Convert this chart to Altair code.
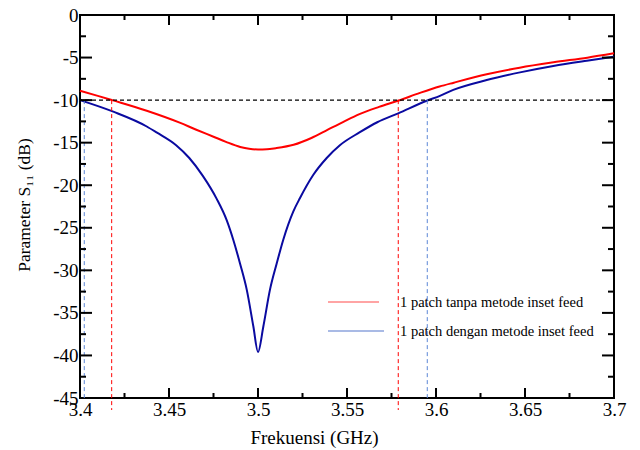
import altair as alt
import pandas as pd

# ---- data ----
series_names = ["1 patch tanpa metode inset feed", "1 patch dengan metode inset feed"]

freq_red = [3.400, 3.410, 3.418, 3.4375, 3.456, 3.465, 3.475, 3.482, 3.490, 3.495,
            3.500, 3.505, 3.510, 3.520, 3.530, 3.539, 3.548, 3.557, 3.568, 3.579,
            3.591, 3.602, 3.610, 3.6285, 3.647, 3.666, 3.685, 3.700]
s11_red = [-8.9, -9.5, -10.0, -11.25, -12.65, -13.45, -14.3, -14.9, -15.5, -15.72,
           -15.8, -15.78, -15.65, -15.25, -14.45, -13.5, -12.55, -11.65, -10.8, -10.05,
           -9.15, -8.4, -7.95, -6.97, -6.19, -5.56, -5.01, -4.5]

freq_blue = [3.400, 3.4187, 3.4375, 3.443, 3.454, 3.4614, 3.469, 3.4768, 3.4824, 3.4861,
             3.4899, 3.4937, 3.4974, 3.500, 3.503, 3.5067, 3.5105, 3.5142, 3.5198, 3.5236,
             3.531, 3.5386, 3.546, 3.557, 3.567, 3.5788, 3.5948, 3.6022, 3.6097, 3.6285,
             3.6472, 3.6659, 3.6847, 3.700]
s11_blue = [-10.0, -11.36, -13.1, -13.8, -15.3, -16.8, -18.9, -21.6, -24.1, -26.4,
            -29.2, -32.3, -36.6, -39.6, -36.6, -32.3, -29.2, -26.4, -23.1, -21.5,
            -18.8, -16.8, -15.3, -13.8, -12.6, -11.55, -10.07, -9.5, -8.8, -7.64,
            -6.74, -5.99, -5.37, -4.9]

bw_red = [3.4178, 3.5788]     # -10 dB crossings, red curve
bw_blue = [3.4024, 3.5951]    # -10 dB crossings, blue curve
ref_level = [-10]

x_major = [3.4, 3.45, 3.5, 3.55, 3.6, 3.65, 3.7]
x_minor = [3.425, 3.475, 3.525, 3.575, 3.625, 3.675]
y_major = [0, -5, -10, -15, -20, -25, -30, -35, -40, -45]
y_minor = [-2.5, -7.5, -12.5, -17.5, -22.5, -27.5, -32.5, -37.5, -42.5]

# ---- layout / style ----
W, H = 534, 383
FONT = "Liberation Serif"
RED = "#ff0000"
BLUE = "#0a0aa0"

df = pd.concat([
    pd.DataFrame({"f": freq_red, "s11": s11_red, "series": series_names[0]}),
    pd.DataFrame({"f": freq_blue, "s11": s11_blue, "series": series_names[1]}),
])

xscale = alt.Scale(domain=[3.4, 3.7], nice=False, zero=False)
yscale = alt.Scale(domain=[-45, 0], nice=False, zero=False)

x_axis = alt.Axis(values=x_major, format=".2~f", title="Frekuensi (GHz)", ticks=False,
                  domain=False, grid=False, labelFont=FONT, labelFontSize=19,
                  labelColor="black", labelPadding=2, labelOverlap=False, labelFlush=False,
                  titleFont=FONT, titleFontSize=19, titleFontWeight="normal",
                  titleColor="black", titleX=234, titleY=39, titleAlign="center",
                  titleBaseline="middle")
y_axis = alt.Axis(values=y_major, labelExpr="datum.value + ''", title="Parameter S₁₁ (dB)",
                  ticks=False, domain=False, grid=False, labelFont=FONT, labelFontSize=19,
                  labelColor="black", labelPadding=2, labelOverlap=False, labelBaseline="middle",
                  titleFont=FONT, titleFontSize=17.5, titleFontWeight="normal",
                  titleColor="black", titleX=-56, titleY=H / 2 - 2, titleAngle=270,
                  titleAlign="center", titleBaseline="middle")

curves = alt.Chart(df).mark_line(strokeWidth=2, interpolate="monotone").encode(
    x=alt.X("f:Q", scale=xscale, axis=x_axis),
    y=alt.Y("s11:Q", scale=yscale, axis=y_axis),
    color=alt.Color("series:N", scale=alt.Scale(domain=series_names, range=[RED, BLUE]),
                    legend=None),
    order=alt.Order("f:Q"),
)

hline = alt.Chart(pd.DataFrame({"s11": ref_level})).mark_rule(
    color="black", strokeWidth=1.1, strokeDash=[4, 3]).encode(
    y=alt.Y("s11:Q", scale=yscale))

vred = alt.Chart(pd.DataFrame({"f": bw_red, "s11": ref_level * 2})).mark_rule(
    color=RED, strokeWidth=1, strokeDash=[4, 3]).encode(
    x=alt.X("f:Q", scale=xscale),
    y=alt.Y("s11:Q", scale=yscale),
    y2=alt.value(H + 12))

vblue = alt.Chart(pd.DataFrame({"f": bw_blue, "s11": ref_level * 2})).mark_rule(
    color="#5b86d6", strokeWidth=1, strokeDash=[4, 3]).encode(
    x=alt.X("f:Q", scale=xscale),
    y=alt.Y("s11:Q", scale=yscale),
    y2=alt.value(H))


def xticks(vals, y0, y1):
    return alt.Chart(pd.DataFrame({"f": vals})).mark_rule(color="black", strokeWidth=2).encode(
        x=alt.X("f:Q", scale=xscale), y=alt.value(y0), y2=alt.value(y1))


def yticks(vals, x0, x1):
    return alt.Chart(pd.DataFrame({"s11": vals})).mark_rule(color="black", strokeWidth=2).encode(
        y=alt.Y("s11:Q", scale=yscale), x=alt.value(x0), x2=alt.value(x1))


ticks = [
    xticks(x_major[1:-1], H, H - 10), xticks(x_minor, H, H - 5),
    xticks(x_major[1:-1], 0, 10), xticks(x_minor, 0, 5),
    yticks(y_major[1:-1], 0, 12), yticks(y_minor, 0, 6),
    yticks(y_major[1:-1], W, W - 12), yticks(y_minor, W, W - 6),
]

leg_red_line = alt.Chart(pd.DataFrame({"a": [0]})).mark_rule(color="#ff4a4a", strokeWidth=1.2).encode(
    x=alt.value(248), x2=alt.value(299), y=alt.value(287))
leg_blue_line = alt.Chart(pd.DataFrame({"a": [0]})).mark_rule(color="#5577cc", strokeWidth=1.2).encode(
    x=alt.value(248), x2=alt.value(304), y=alt.value(316))
leg_red_text = alt.Chart(pd.DataFrame({"label": [series_names[0]]})).mark_text(
    align="left", baseline="middle", font=FONT, fontSize=14.5, color="black").encode(
    x=alt.value(320), y=alt.value(288), text="label:N")
leg_blue_text = alt.Chart(pd.DataFrame({"label": [series_names[1]]})).mark_text(
    align="left", baseline="middle", font=FONT, fontSize=14.5, color="black").encode(
    x=alt.value(320), y=alt.value(317), text="label:N")

chart = alt.layer(
    curves, hline, vred, vblue, *ticks,
    leg_red_line, leg_blue_line, leg_red_text, leg_blue_text,
).properties(
    width=W, height=H,
    autosize=alt.AutoSizeParams(type="none"),
    padding={"left": 72, "top": 7, "right": 18, "bottom": 52},
    background="white",
).configure_view(stroke="black", strokeWidth=2)

chart.save("out.html", embed_options={"renderer": "svg", "actions": False})
